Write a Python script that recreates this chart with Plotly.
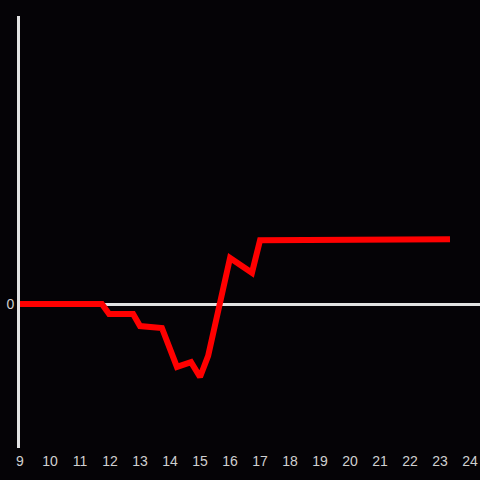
import plotly.graph_objects as go

# time (x) and value (y)
x_vals = [9.0, 11.73, 11.97, 12.77, 13.0, 13.73, 14.23, 14.7, 15.0, 15.27, 16.0, 16.73, 17.0, 23.33]
y_vals = [0.0, 0.0, -0.21, -0.21, -0.46, -0.5, -1.31, -1.21, -1.52, -1.08, 0.96, 0.65, 1.33, 1.35]
x_ticks = list(range(9, 25))

bg = "#050306"
axis_col = "#e2e2e2"

fig = go.Figure()
fig.add_trace(go.Scatter(
    x=x_vals, y=y_vals,
    mode="lines",
    line=dict(color="#ff0000", width=6),
    showlegend=False,
))

fig.update_layout(
    width=480, height=480,
    margin=dict(l=20, r=0, t=16, b=32),
    paper_bgcolor=bg,
    plot_bgcolor=bg,
    font=dict(family="Liberation Sans, Arial, sans-serif", size=14, color="#d0d0d0"),
)
fig.update_xaxes(
    range=[9, 24.33],
    tickvals=x_ticks,
    showgrid=False, zeroline=False, showline=False,
    ticks="", ticklen=0,
    ticklabelstandoff=3,
)
fig.update_yaxes(
    range=[-3, 6],
    tickvals=[0],
    showgrid=False,
    zeroline=True, zerolinecolor=axis_col, zerolinewidth=3,
    showline=True, linecolor=axis_col, linewidth=3,
    ticks="",
)

fig.write_html(
    "out.html",
    config={"displayModeBar": False},
    post_script="document.body.style.margin='0';document.body.style.background='%s';" % bg,
)
